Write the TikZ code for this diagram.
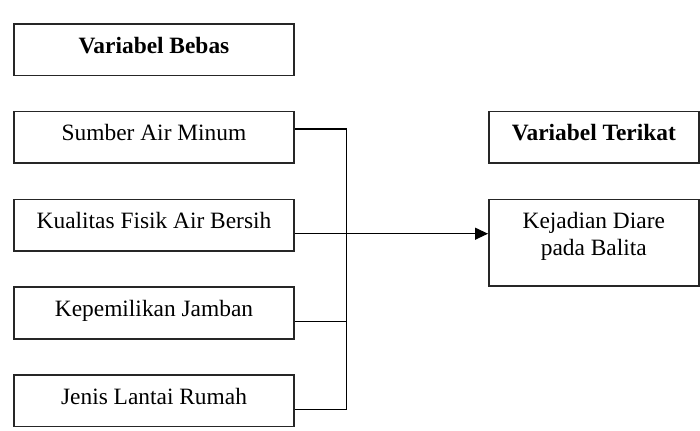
\documentclass[tikz,border=0pt]{standalone}
\usepackage{fontspec}
\setmainfont{Liberation Serif}
\usetikzlibrary{arrows.meta,positioning}

\begin{document}
\begin{tikzpicture}[
  box/.style={draw=black!85, line width=0.8pt, minimum width=140.2pt, minimum height=25.8pt, inner sep=2pt, text height=8pt, text depth=4.5pt, font=\fontsize{11.7}{13.5}\selectfont},
  link/.style={line width=0.6pt},
  node distance=17.3pt and 96.5pt]
\useasboundingbox (0,0) rectangle (350pt,-215pt);
\node[box, anchor=north west, font=\fontsize{11.7}{13.5}\selectfont\bfseries] (bebas) at (6.5pt,-11.5pt) {Variabel Bebas};
\node[box, below=of bebas] (sumber) {Sumber Air Minum};
\node[box, below=of sumber] (kualitas) {Kualitas Fisik Air Bersih};
\node[box, below=of kualitas] (kepemilikan) {Kepemilikan Jamban};
\node[box, below=of kepemilikan] (jenis) {Jenis Lantai Rumah};
\node[box, right=of sumber, minimum width=105pt, font=\fontsize{11.7}{13.5}\selectfont\bfseries] (terikat) {Variabel Terikat};
\node[box, below=of terikat, minimum width=105pt, minimum height=43.2pt] (kejadian) {};
\node[align=center, font=\fontsize{11.7}{13.5}\selectfont] (kejadiantext) at ([yshift=3pt]kejadian.center) {Kejadian Diare\\pada Balita};
\coordinate (bus) at ([xshift=25.6pt]sumber.east);
\coordinate (sumberout) at ([yshift=4.25pt]sumber.east);
\coordinate (kualitasout) at ([yshift=-4.25pt]kualitas.east);
\coordinate (kepemilikanout) at ([yshift=-4.25pt]kepemilikan.east);
\coordinate (jenisout) at ([yshift=-4.25pt]jenis.east);
\draw[link] (sumberout) -| (jenisout -| bus) -- (jenisout);
\draw[link] (kepemilikanout) -- (kepemilikanout -| bus);
\draw[link, -{Triangle[length=6.5pt,width=6pt]}] (kualitasout) -- (kualitasout -| kejadian.west);
\end{tikzpicture}
\end{document}
